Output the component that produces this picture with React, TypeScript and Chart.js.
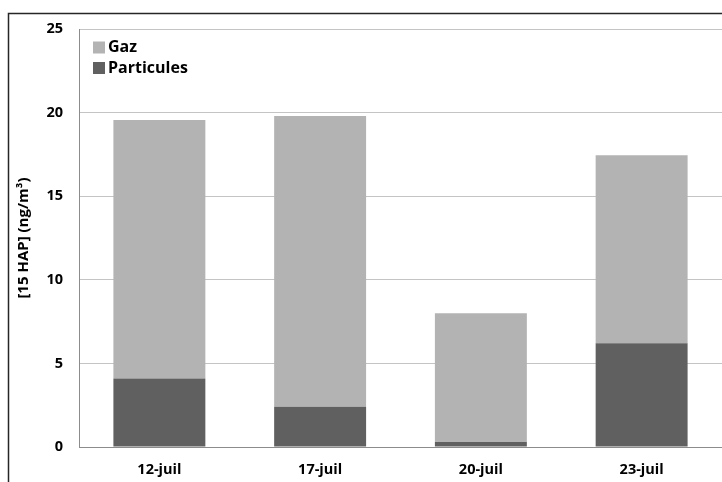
import React, { useEffect, useRef } from "react";
import { Chart, registerables } from "chart.js";

Chart.register(...registerables);

const categories = ["12-juil", "17-juil", "20-juil", "23-juil"];
const particules = [4.1, 2.4, 0.3, 6.2];
const gaz = [15.45, 17.4, 7.7, 11.25];
const yTicks = [0, 5, 10, 15, 20, 25];

const FONT = "'Open Sans', Carlito, Calibri, Lato, sans-serif";
const GAZ_COLOR = "#b3b3b3";
const PART_COLOR = "#606060";

export default function App() {
  const ref = useRef<HTMLCanvasElement | null>(null);

  useEffect(() => {
    if (!ref.current) return;
    const framePlugin = {
      id: "frame",
      afterDraw(chart: any) {
        const ctx = chart.ctx;
        ctx.save();
        ctx.strokeStyle = "#262626";
        ctx.lineWidth = 1.5;
        ctx.beginPath();
        ctx.moveTo(8.5, 482);
        ctx.lineTo(8.5, 13.5);
        ctx.lineTo(722, 13.5);
        ctx.stroke();
        // legend
        const items = [
          { label: "Gaz", color: GAZ_COLOR, y: 47.5 },
          { label: "Particules", color: PART_COLOR, y: 68 },
        ];
        ctx.font = `bold 16px ${FONT}`;
        ctx.textBaseline = "middle";
        ctx.textAlign = "left";
        for (const it of items) {
          ctx.fillStyle = it.color;
          ctx.fillRect(93, it.y - 6, 12, 12);
          ctx.fillStyle = "#000";
          ctx.fillText(it.label, 108, it.y);
        }
        ctx.restore();
      },
    };

    const chart = new Chart(ref.current, {
      type: "bar",
      data: {
        labels: categories,
        datasets: [
          {
            label: "Particules",
            data: particules,
            backgroundColor: PART_COLOR,
            categoryPercentage: 1,
            barPercentage: 0.572,
          },
          {
            label: "Gaz",
            data: gaz,
            backgroundColor: GAZ_COLOR,
            categoryPercentage: 1,
            barPercentage: 0.572,
          },
        ],
      },
      options: {
        responsive: false,
        animation: false,
        layout: { padding: { left: 0, right: 0, top: 29, bottom: 0 } },
        plugins: {
          legend: { display: false },
          tooltip: { enabled: false },
        },
        scales: {
          x: {
            stacked: true,
            grid: { display: false, drawTicks: false },
            border: { color: "#8c8c8c", width: 1 },
            ticks: {
              color: "#000",
              padding: 14,
              font: { family: FONT, size: 14.5, weight: "bold" },
            },
            afterFit(scale: any) {
              scale.height = 35;
            },
          },
          y: {
            stacked: true,
            min: 0,
            max: 25,
            afterBuildTicks(scale: any) {
              scale.ticks = yTicks.map((v) => ({ value: v }));
            },
            grid: { color: "#c4c4c4", drawTicks: false },
            border: { color: "#8c8c8c", width: 1 },
            ticks: {
              color: "#000",
              padding: 16,
              font: { family: FONT, size: 14.5, weight: "bold" },
            },
            title: {
              display: true,
              text: "[15 HAP] (ng/m³)",
              color: "#000",
              padding: { top: 15, bottom: 0 },
              font: { family: FONT, size: 15, weight: "bold" },
            },
            afterFit(scale: any) {
              scale.width = 79;
            },
          },
        },
      },
      plugins: [framePlugin],
    } as any);
    return () => chart.destroy();
  }, []);

  return (
    <div style={{ position: "absolute", left: 0, top: 0, width: 722, height: 482, background: "#fff" }}>
      <canvas ref={ref} width={722} height={482} style={{ display: "block" }} />
    </div>
  );
}
